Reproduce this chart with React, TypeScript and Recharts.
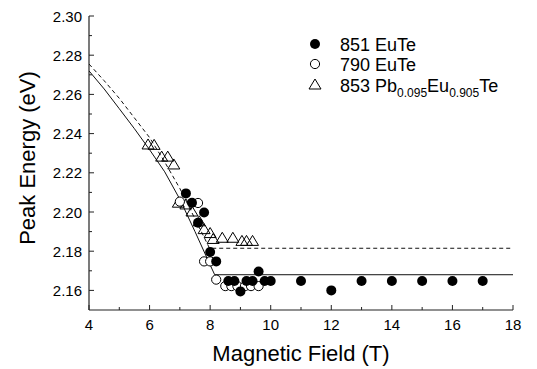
import React from 'react';
import { ScatterChart, Scatter, XAxis, YAxis } from 'recharts';

if (typeof document !== 'undefined') document.body.style.margin = '0';

const FONT = '"Liberation Sans", Arial, sans-serif';
const AXIS = '#222';

const xTicks = [4, 5, 6, 7, 8, 9, 10, 11, 12, 13, 14, 15, 16, 17, 18];
const yTicks = [2.16, 2.17, 2.18, 2.19, 2.2, 2.21, 2.22, 2.23, 2.24, 2.25, 2.26, 2.27, 2.28, 2.29, 2.3];

// 851 EuTe (filled circles)
const eute851 = [
  { x: 7.2, y: 2.2095 },
  { x: 7.4, y: 2.2047 },
  { x: 7.6, y: 2.1945 },
  { x: 7.8, y: 2.1997 },
  { x: 8.0, y: 2.1796 },
  { x: 8.2, y: 2.1748 },
  { x: 8.6, y: 2.1648 },
  { x: 8.8, y: 2.1648 },
  { x: 9.0, y: 2.1595 },
  { x: 9.2, y: 2.1648 },
  { x: 9.4, y: 2.1648 },
  { x: 9.6, y: 2.1696 },
  { x: 9.8, y: 2.1648 },
  { x: 10.0, y: 2.1648 },
  { x: 11, y: 2.1648 },
  { x: 12, y: 2.16 },
  { x: 13, y: 2.1648 },
  { x: 14, y: 2.1648 },
  { x: 15, y: 2.1648 },
  { x: 16, y: 2.1648 },
  { x: 17, y: 2.1648 },
];

// 790 EuTe (open circles)
const eute790 = [
  { x: 7.0, y: 2.2053 },
  { x: 7.6, y: 2.2046 },
  { x: 7.8, y: 2.1748 },
  { x: 8.0, y: 2.1748 },
  { x: 8.2, y: 2.1655 },
  { x: 8.5, y: 2.1622 },
  { x: 8.7, y: 2.1622 },
  { x: 8.9, y: 2.1622 },
  { x: 9.15, y: 2.1622 },
  { x: 9.35, y: 2.1622 },
  { x: 9.6, y: 2.1622 },
];

// 853 Pb0.095Eu0.905Te (open triangles)
const pbeute853 = [
  { x: 5.95, y: 2.2342 },
  { x: 6.15, y: 2.234 },
  { x: 6.4, y: 2.228 },
  { x: 6.6, y: 2.228 },
  { x: 6.8, y: 2.224 },
  { x: 6.95, y: 2.2045 },
  { x: 7.2, y: 2.2036 },
  { x: 7.4, y: 2.2 },
  { x: 7.64, y: 2.195 },
  { x: 7.8, y: 2.191 },
  { x: 8.0, y: 2.189 },
  { x: 8.1, y: 2.186 },
  { x: 8.4, y: 2.1866 },
  { x: 8.75, y: 2.1866 },
  { x: 9.05, y: 2.185 },
  { x: 9.2, y: 2.185 },
  { x: 9.4, y: 2.185 },
];

// fitted curves
const solidFit = [
  { x: 4, y: 2.272 },
  { x: 4.5, y: 2.2628 },
  { x: 5, y: 2.2527 },
  { x: 5.5, y: 2.2425 },
  { x: 6, y: 2.2318 },
  { x: 6.5, y: 2.2205 },
  { x: 7, y: 2.2065 },
  { x: 7.5, y: 2.19 },
  { x: 8, y: 2.173 },
  { x: 8.15, y: 2.168 },
  { x: 18, y: 2.168 },
];

const dashedFit = [
  { x: 4, y: 2.2755 },
  { x: 4.5, y: 2.267 },
  { x: 5, y: 2.258 },
  { x: 5.5, y: 2.248 },
  { x: 6, y: 2.238 },
  { x: 6.5, y: 2.2255 },
  { x: 7, y: 2.212 },
  { x: 7.5, y: 2.1965 },
  { x: 7.98, y: 2.1815 },
  { x: 18, y: 2.1815 },
];

const tickFont = { fontFamily: FONT, fontSize: 15, fill: '#000' };

const isMajorX = (v: number) => Math.round(v) % 2 === 0;
const isMajorY = (v: number) => Math.round(v * 100) % 2 === 0;

const BottomTick = (props: any) => {
  const { x, y, payload } = props;
  const major = isMajorX(payload.value);
  return (
    <g>
      <line x1={x} x2={x} y1={y} y2={y - (major ? 5 : 3)} stroke={AXIS} />
      {major && (
        <text x={x} y={y + 20} textAnchor="middle" style={tickFont}>
          {payload.value}
        </text>
      )}
    </g>
  );
};

const TopTick = (props: any) => {
  const { x, y, payload } = props;
  const major = isMajorX(payload.value);
  return <line x1={x} x2={x} y1={y} y2={y + (major ? 5 : 3)} stroke={AXIS} />;
};

const LeftTick = (props: any) => {
  const { x, y, payload } = props;
  const major = isMajorY(payload.value);
  return (
    <g>
      <line x1={x} x2={x + (major ? 5 : 3)} y1={y} y2={y} stroke={AXIS} />
      {major && (
        <text x={x - 7} y={y + 5.5} textAnchor="end" style={tickFont}>
          {payload.value.toFixed(2)}
        </text>
      )}
    </g>
  );
};

const RightTick = (props: any) => {
  const { x, y, payload } = props;
  const major = isMajorY(payload.value);
  return <line x1={x} x2={x - (major ? 5 : 3)} y1={y} y2={y} stroke={AXIS} />;
};

const FilledCircle = (p: any) => <circle cx={p.cx} cy={p.cy} r={5} fill="#000" />;
const OpenCircle = (p: any) => (
  <circle cx={p.cx} cy={p.cy} r={4.6} fill="#fff" stroke="#000" strokeWidth={1} />
);
const Triangle = (p: any) => (
  <polygon
    points={`${p.cx},${p.cy - 6} ${p.cx - 6},${p.cy + 4} ${p.cx + 6},${p.cy + 4}`}
    fill="none"
    stroke="#000"
    strokeWidth={1}
  />
);
const NoDot = () => null;

export default function App() {
  return (
    <div style={{ position: 'relative', width: 537, height: 369, background: '#fff' }}>
      <ScatterChart width={537} height={369} margin={{ top: 16, right: 24, left: 0, bottom: 0 }}>
        <XAxis
          xAxisId="bottom"
          type="number"
          dataKey="x"
          domain={[4, 18]}
          ticks={xTicks}
          interval={0}
          allowDataOverflow
          height={59}
          tickSize={0}
          tickMargin={0}
          tick={<BottomTick />}
          axisLine={{ stroke: AXIS, strokeWidth: 1.2 }}
        />
        <XAxis
          xAxisId="top"
          orientation="top"
          type="number"
          dataKey="x"
          domain={[4, 18]}
          ticks={xTicks}
          interval={0}
          allowDataOverflow
          height={0}
          tickSize={0}
          tickMargin={0}
          tick={<TopTick />}
          axisLine={{ stroke: AXIS, strokeWidth: 1.2 }}
        />
        <YAxis
          yAxisId="left"
          type="number"
          dataKey="y"
          domain={[2.15, 2.3]}
          ticks={yTicks}
          interval={0}
          allowDataOverflow
          width={89}
          tickSize={0}
          tickMargin={0}
          tick={<LeftTick />}
          axisLine={{ stroke: AXIS, strokeWidth: 1.2 }}
        />
        <YAxis
          yAxisId="right"
          orientation="right"
          type="number"
          dataKey="y"
          domain={[2.15, 2.3]}
          ticks={yTicks}
          interval={0}
          allowDataOverflow
          width={0}
          tickSize={0}
          tickMargin={0}
          tick={<RightTick />}
          axisLine={{ stroke: AXIS, strokeWidth: 1.2 }}
        />
        <Scatter
          xAxisId="bottom"
          yAxisId="left"
          data={dashedFit}
          line={{ stroke: '#111', strokeWidth: 1, strokeDasharray: '4 3' }}
          lineType="joint"
          shape={NoDot}
          isAnimationActive={false}
        />
        <Scatter
          xAxisId="bottom"
          yAxisId="left"
          data={solidFit}
          line={{ stroke: '#111', strokeWidth: 1 }}
          lineType="joint"
          shape={NoDot}
          isAnimationActive={false}
        />
        <Scatter
          xAxisId="bottom"
          yAxisId="left"
          data={pbeute853}
          shape={Triangle}
          isAnimationActive={false}
        />
        <Scatter
          xAxisId="bottom"
          yAxisId="left"
          data={eute790}
          shape={OpenCircle}
          isAnimationActive={false}
        />
        <Scatter
          xAxisId="bottom"
          yAxisId="left"
          data={eute851}
          shape={FilledCircle}
          isAnimationActive={false}
        />
      </ScatterChart>

      <svg
        width={537}
        height={369}
        style={{ position: 'absolute', left: 0, top: 0, pointerEvents: 'none' }}
      >
        <g style={{ fontFamily: FONT, fill: '#000' }}>
          <circle cx={315} cy={44} r={5} fill="#000" />
          <text x={340} y={50.5} fontSize={18}>851 EuTe</text>
          <circle cx={315} cy={64} r={4.6} fill="#fff" stroke="#000" />
          <text x={340} y={70.5} fontSize={18}>790 EuTe</text>
          <polygon points="315,79 309,89 321,89" fill="none" stroke="#000" />
          <text x={340} y={91.5} fontSize={18}>
            853 Pb
            <tspan fontSize={12} dy={5}>0.095</tspan>
            <tspan dy={-5}>Eu</tspan>
            <tspan fontSize={12} dy={5}>0.905</tspan>
            <tspan dy={-5}>Te</tspan>
          </text>
          <text x={301} y={361} fontSize={22} textAnchor="middle">
            Magnetic Field (T)
          </text>
          <text
            x={0}
            y={0}
            fontSize={22}
            textAnchor="middle"
            transform="translate(35 158) rotate(-90)"
          >
            Peak Energy (eV)
          </text>
        </g>
      </svg>
    </div>
  );
}
